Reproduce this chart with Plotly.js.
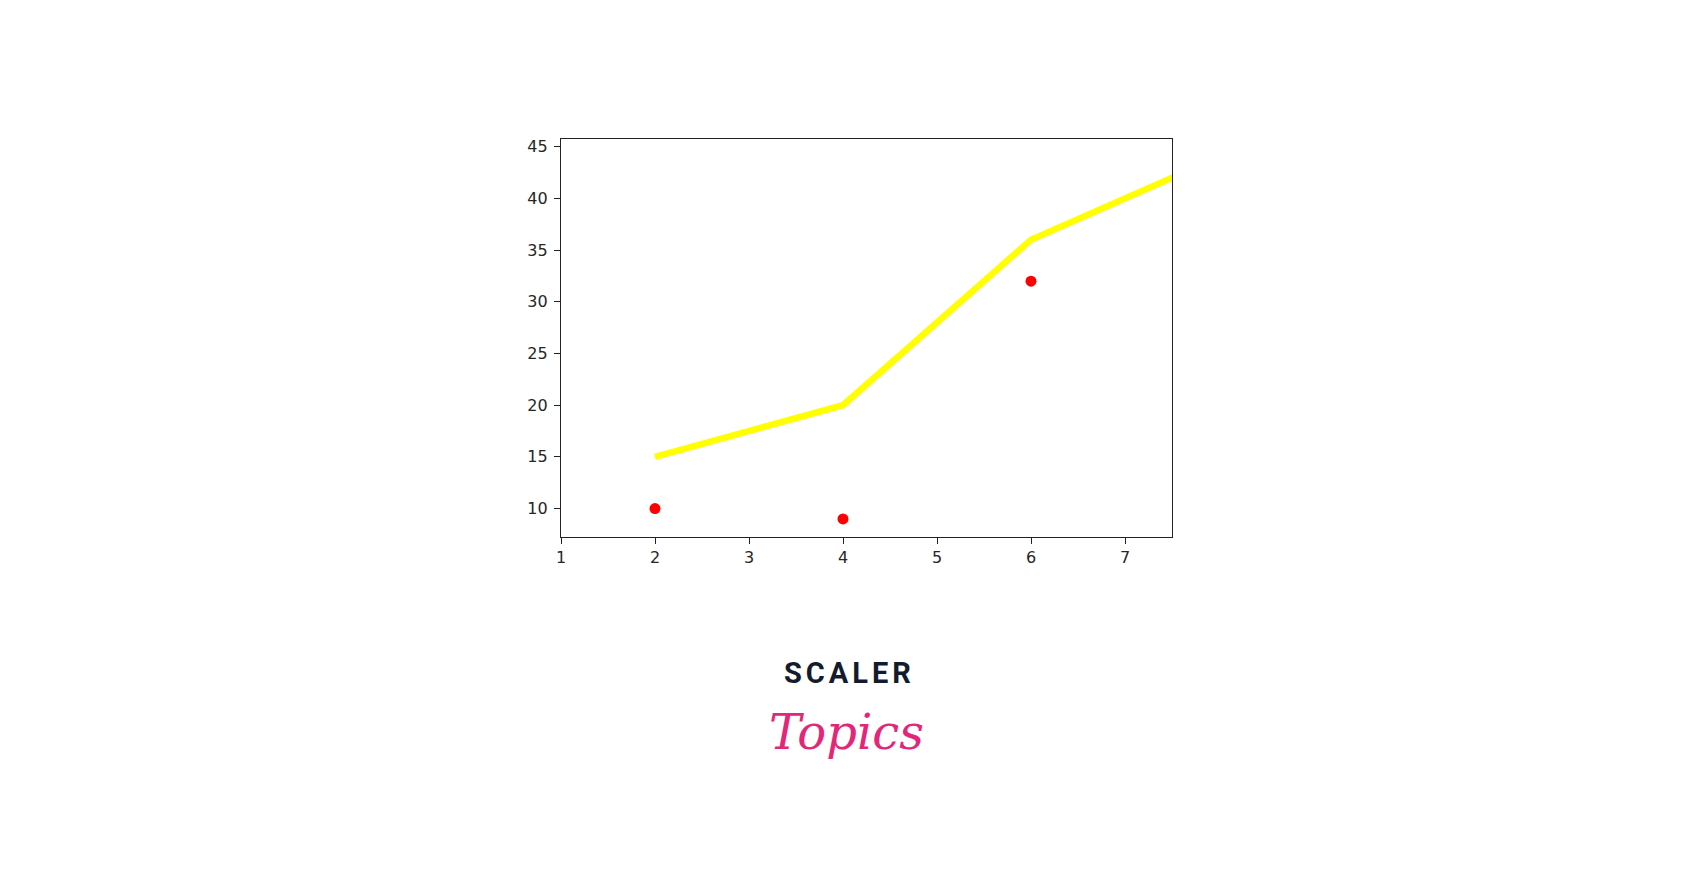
<!DOCTYPE html>
<html>
<head>
<meta charset="utf-8">
<script src="https://cdn.plot.ly/plotly-3.0.1.min.js"></script>
<style>
  html, body { margin: 0; padding: 0; background: #fff; }
  #chart { width: 1700px; height: 872px; }
</style>
</head>
<body>
<div id="chart"></div>
<script>
// line series
const lineX = [2, 4, 6, 8];
const lineY = [15, 20, 36, 44];

// scatter points
const dotX = [2, 4, 6];
const dotY = [10, 9, 32];

const xTicks = [1, 2, 3, 4, 5, 6, 7];
const yTicks = [10, 15, 20, 25, 30, 35, 40, 45];

const tickFont = { family: 'DejaVu Sans', size: 16, color: '#262626' };

const axisBase = {
    showline: true, linecolor: '#222', linewidth: 1.2, mirror: true,
    showgrid: false, zeroline: false,
    ticks: 'outside', ticklen: 6, tickwidth: 1, tickcolor: '#222',
    tickfont: tickFont, fixedrange: true
};

const traces = [
    { x: lineX, y: lineY, type: 'scatter', mode: 'lines', cliponaxis: true,
      line: { color: '#ffff00', width: 6.5 }, hoverinfo: 'skip' },
    { x: dotX, y: dotY, type: 'scatter', mode: 'markers',
      marker: { color: '#ff0000', size: 11 } }
];

const layout = {
    width: 1700, height: 872,
    margin: { l: 561, r: 528, t: 139, b: 335 },
    paper_bgcolor: '#fff', plot_bgcolor: '#fff',
    showlegend: false,
    xaxis: { ...axisBase, range: [1, 7.5], tickvals: xTicks, ticklabelstandoff: 0 },
    yaxis: { ...axisBase, range: [7.25, 45.75], tickvals: yTicks, ticklabelstandoff: 3 },
    annotations: [
        { text: 'SCALER', xref: 'paper', yref: 'paper', x: 0.472, y: -0.341,
          xanchor: 'center', yanchor: 'middle', showarrow: false,
          font: { family: 'Roboto', size: 29, color: '#141b2d', weight: 700 } },
        { text: '<i>Topics</i>', xref: 'paper', yref: 'paper', x: 0.468, y: -0.49,
          xanchor: 'center', yanchor: 'middle', showarrow: false,
          font: { family: 'DejaVu Serif', size: 48, color: '#e3267a' } }
    ]
};

Plotly.newPlot('chart', traces, layout, { displayModeBar: false, staticPlot: true }).then(() => {
    // spread the logo letters a bit like the original wordmark
    document.querySelectorAll('.annotation-text').forEach(t => {
        if (t.textContent === 'SCALER') t.style.letterSpacing = '4px';
    });
});
</script>
</body>
</html>
